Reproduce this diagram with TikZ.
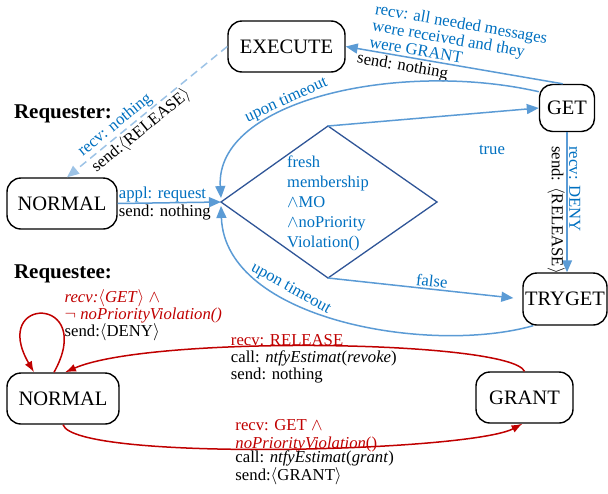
\documentclass[tikz,border=0pt]{standalone}
\usepackage{fontspec}
\setmainfont{Liberation Serif}
\usetikzlibrary{arrows.meta}
\definecolor{tblue}{HTML}{0070C0}
\definecolor{lblue}{HTML}{5B9BD5}
\definecolor{pblue}{HTML}{9DC3E6}
\definecolor{navy}{HTML}{2F5597}
\definecolor{dred}{HTML}{C00000}
\begin{document}
\begin{tikzpicture}[x=1pt,y=-1pt,
  state/.style={draw, line width=1.4pt, inner sep=0pt, rounded corners=14pt, font=\fontsize{20.5}{24}\selectfont},
  lbl/.style={font=\fontsize{16.7}{17.5}\selectfont, inner sep=1.5pt, align=left},
  head/.style={font=\bfseries\fontsize{21}{24}\selectfont, inner sep=0pt},
  barrow/.style={draw=lblue, line width=1.5pt, -{Triangle[length=12pt,width=10pt]}},
  darrow/.style={draw=pblue, line width=1.5pt, dash pattern=on 8pt off 5pt, -{Triangle[length=12pt,width=10pt]}},
  rarrow/.style={draw=dred, line width=1.5pt, -{Latex[length=11pt,width=8pt]}},
  ]
\useasboundingbox (0,0) rectangle (608,493);

% states
\node[state, minimum width=117pt, minimum height=51pt] (exec) at (286.5,46.5) {EXECUTE};
\node[state, rounded corners=13pt, minimum width=55pt, minimum height=47pt] (get) at (567,108) {GET};
\node[state, minimum width=84pt, minimum height=52pt] (tryget) at (565,299) {TRYGET};
\node[state, minimum width=110pt, minimum height=51pt] (n1) at (62,203.5) {NORMAL};
\node[state, minimum width=112pt, minimum height=51pt] (n2) at (63,398.5) {NORMAL};
\node[state, minimum width=97pt, minimum height=51pt] (grant) at (524.5,397.5) {GRANT};

% headings
\node[head] (reqr) at (63,114) {Requester:};
\node[head] (reqe) at (63,273.5) {Requestee:};

% decision diamond
\coordinate (dT) at (328,126);
\coordinate (dR) at (437,202);
\coordinate (dB) at (328,278);
\coordinate (dL) at (221,202);
\draw[navy, line width=1.3pt] (dT) -- (dR) -- (dB) -- (dL) -- cycle;
\node[lbl, text=tblue, font=\fontsize{16.5}{20}\selectfont] (cond) at (328,203)
  {fresh\\membership\\$\wedge$MO\\$\wedge$noPriority\\Violation()};

% requester edges
\draw[darrow] (exec.west) -- ([xshift=5pt]n1.north)
  node[lbl, pos=0.66, sloped, above, text=tblue] {recv: nothing}
  node[lbl, pos=0.58, sloped, below] {send:$\langle$RELEASE$\rangle$};

\draw[barrow] (n1.east) -- (dL)
  node[lbl, pos=0, anchor=south west, inner sep=0.5pt, text=tblue] {appl: request}
  node[lbl, pos=0, anchor=north west, inner sep=0.5pt] {send: nothing};

\draw[barrow] (dT) -- (get.west);
\node[lbl, text=tblue] (truelbl) at (492,150) {true};

\draw[barrow, shorten >=9pt] (dB) -- (tryget.west)
  node[lbl, pos=0.53, sloped, above, text=tblue] {false};

\draw[barrow] (get.100) -- (exec.east)
  node[lbl, pos=0.5, sloped, above, inner sep=2pt, text=tblue, font=\fontsize{16.7}{17}\selectfont] {recv: all needed messages\\were received and they\\were GRANT}
  node[lbl, pos=0.73, sloped, below, inner sep=2pt] {send: nothing};

\draw[barrow] (get.south) -- (get.south |- tryget.north)
  node[lbl, pos=0.085, rotate=-90, anchor=south west, text=tblue] {recv: DENY}
  node[lbl, pos=0.085, rotate=-90, anchor=north west] {send: $\langle$RELEASE$\rangle$};

\draw[barrow] (get.150) .. controls (400,60) and (215,100) .. ([yshift=4pt]dL)
  node[lbl, pos=0.6, sloped, above, text=tblue] {upon timeout};

\draw[barrow] (tryget.220) .. controls (430,355) and (225,320) .. ([yshift=-4pt]dL)
  node[lbl, pos=0.65, sloped, above, text=tblue] {upon timeout};

% requestee edges
\draw[rarrow] ([xshift=-9pt]n2.north) .. controls (97,295) and (-11,295) .. ([xshift=-29pt]n2.north);
\node[lbl, anchor=north west, font=\fontsize{16.7}{16.7}\selectfont] (looplbl) at (63,288)
  {{\color{dred}\textit{recv:}$\langle$\textit{GET}$\rangle$ $\wedge$}\\{\color{dred}$\neg$ \textit{noPriorityViolation()}}\\send:$\langle$DENY$\rangle$};

\draw[rarrow] (grant.north) .. controls (510,340) and (150,335) .. ([xshift=2pt]n2.north)
  node[lbl, pos=0.65, anchor=south west, text=dred] {recv: RELEASE}
  node[lbl, pos=0.65, anchor=north west] {call: \textit{ntfyEstimat}(\textit{revoke})\\send: nothing};

\draw[rarrow] (n2.south) .. controls (75,462) and (470,452) .. ([xshift=-2pt]grant.south)
  node[lbl, pos=0.43, anchor=south west, yshift=-5pt, text=dred] {recv: GET $\wedge$\\\textit{noPriorityViolation}()}
  node[lbl, pos=0.43, anchor=north west] {call: \textit{ntfyEstimat}(\textit{grant})\\send:$\langle$GRANT$\rangle$};
\end{tikzpicture}
\end{document}
